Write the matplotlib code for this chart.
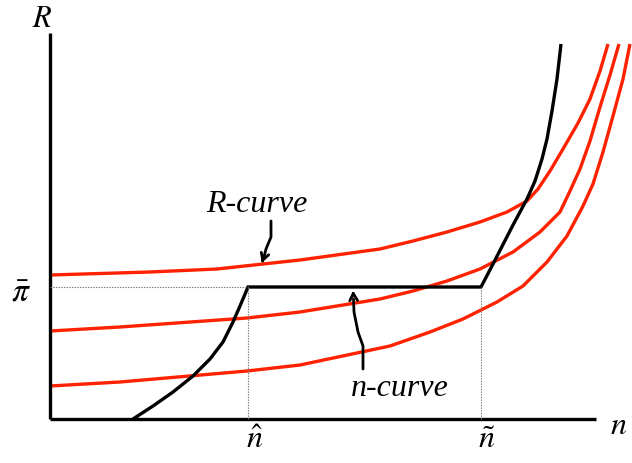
import matplotlib
matplotlib.use("Agg")
import matplotlib.pyplot as plt

plt.rcParams['mathtext.fontset'] = 'stix'

# R-curves (three levels)
r_top_n = [0, 2.0, 3.34, 5.0, 6.6, 7.26, 7.94, 8.6, 9.14, 9.54, 9.76, 10.0, 10.26, 10.56, 10.8, 11.0, 11.16]
r_top_R = [2.88, 2.94, 3.0, 3.18, 3.4, 3.56, 3.74, 3.94, 4.14, 4.36, 4.6, 4.96, 5.4, 5.92, 6.4, 6.96, 7.5]

r_mid_n = [0, 1.4, 3.94, 5.0, 6.6, 7.26, 7.94, 8.6, 9.26, 9.8, 10.2, 10.4, 10.6, 10.8, 11.0, 11.2, 11.38]
r_mid_R = [1.76, 1.84, 2.02, 2.14, 2.4, 2.56, 2.76, 3.0, 3.34, 3.74, 4.14, 4.56, 5.0, 5.56, 6.24, 6.88, 7.5]

r_low_n = [0, 1.4, 3.94, 5.0, 6.8, 7.6, 8.26, 8.94, 9.46, 9.94, 10.34, 10.66, 10.86, 11.06, 11.26, 11.46, 11.6]
r_low_R = [0.66, 0.74, 0.96, 1.08, 1.46, 1.74, 2.0, 2.34, 2.66, 3.14, 3.66, 4.26, 4.7, 5.34, 6.06, 6.8, 7.5]

# n-curve
n_curve_n = [1.66, 2.06, 2.46, 2.86, 3.2, 3.46, 3.66, 3.8, 3.96, 8.62, 8.86, 9.26, 9.54, 9.7, 9.84, 9.94, 10.04, 10.14, 10.22]
n_curve_R = [0, 0.26, 0.54, 0.86, 1.2, 1.54, 1.94, 2.26, 2.64, 2.64, 3.1, 3.88, 4.4, 4.76, 5.2, 5.6, 6.16, 6.8, 7.5]

pi_bar = 2.64
n_hat = 3.96
n_tilde = 8.62
x_max = 10.92
y_max = 7.72

fig = plt.figure(figsize=(6.32, 4.64), dpi=100)
ax = fig.add_axes([0, 0, 1, 1])
ax.set_xlim(-1.0, 11.64)
ax.set_ylim(-0.88, 8.4)
ax.axis('off')

red = '#ff2200'
lw = 2.4
for xs, ys in [(r_top_n, r_top_R), (r_mid_n, r_mid_R), (r_low_n, r_low_R)]:
    ax.plot(xs, ys, color=red, lw=lw, solid_capstyle='butt', solid_joinstyle='round')
ax.plot(n_curve_n, n_curve_R, color='black', lw=lw, solid_joinstyle='miter', solid_capstyle='butt')

# axes
ax.plot([0, 0], [0, y_max], color='black', lw=2.4, solid_capstyle='butt')
ax.plot([0, x_max], [0, 0], color='black', lw=2.4, solid_capstyle='butt')

# dotted guides
dot = dict(color='#777777', lw=0.8, ls=(0, (1.2, 1.2)))
ax.plot([0, n_hat], [pi_bar, pi_bar], **dot)
ax.plot([n_hat, n_hat], [0, pi_bar], **dot)
ax.plot([n_tilde, n_tilde], [0, pi_bar], **dot)

# labels
ax.text(-0.16, 8.04, '$R$', fontsize=22, ha='center', va='center')
ax.text(-0.58, 2.56, r'$\bar{\pi}$', fontsize=24, ha='center', va='center')
ax.text(n_hat + 0.14, -0.4, r'$\hat{n}$', fontsize=23, ha='center', va='center')
ax.text(n_tilde + 0.12, -0.4, r'$\tilde{n}$', fontsize=23, ha='center', va='center')
ax.text(11.38, -0.12, '$n$', fontsize=23, ha='center', va='center')

ax.text(4.14, 4.32, 'R-curve', fontsize=23, fontstyle='italic',
        family='Liberation Serif', ha='center', va='center')
ax.text(7.0, 0.62, 'n-curve', fontsize=23, fontstyle='italic',
        family='Liberation Serif', ha='center', va='center')

# squiggly arrows
ax.plot([4.42, 4.42, 4.32, 4.27], [3.96, 3.64, 3.4, 3.2], color='black', lw=2.0,
        solid_capstyle='round', solid_joinstyle='round')
ax.annotate('', xy=(4.22, 3.07), xytext=(4.27, 3.22),
            arrowprops=dict(arrowstyle='->,head_length=0.5,head_width=0.28', color='black', lw=2.0))
ax.plot([6.26, 6.26, 6.16, 6.08, 6.07], [1.0, 1.46, 1.74, 2.14, 2.4], color='black', lw=2.0,
        solid_capstyle='round', solid_joinstyle='round')
ax.annotate('', xy=(6.06, 2.62), xytext=(6.07, 2.42),
            arrowprops=dict(arrowstyle='->,head_length=0.5,head_width=0.28', color='black', lw=2.0))

fig.savefig('out.png', dpi=100)
